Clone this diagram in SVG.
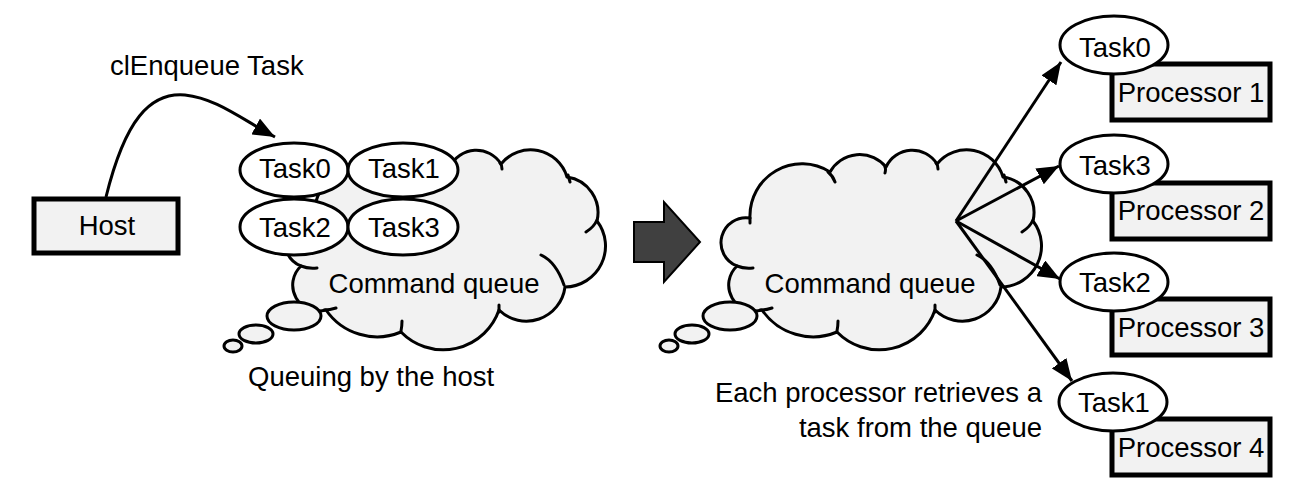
<svg xmlns="http://www.w3.org/2000/svg" xmlns:xlink="http://www.w3.org/1999/xlink" width="1298" height="492" viewBox="0 0 1298 492">
<style>
.t{font-family:"Liberation Sans",Arial,sans-serif;font-size:27.5px;fill:#000}
.task{fill:#fff;stroke:#000;stroke-width:3}
.box{fill:#f2f2f2;stroke:#000;stroke-width:5}
.cloud{fill:#f2f2f2;stroke:#000;stroke-width:3;stroke-linejoin:round}
.tail{fill:none;stroke:#000;stroke-width:3;stroke-linecap:round}
.conn{fill:none;stroke:#000;stroke-width:3}
</style>
<defs>
<marker id="ah" viewBox="0 0 22 18" refX="22" refY="9" markerWidth="22" markerHeight="18" markerUnits="userSpaceOnUse" orient="auto">
<path d="M0,0 L22,9 L0,18 z" fill="#000"/>
</marker>
<g id="cloudShape">
<path class="cloud" d="M737,266 A25,25 0 0 1 750,218 A52,52 0 0 1 830,172 A34,34 0 0 1 886,167 A29,29 0 0 1 937,164 A38,38 0 0 1 1003,177 A36,36 0 0 1 1033,221 A41,41 0 0 1 1001,287 A39,39 0 0 1 935,310 A59,59 0 0 1 837,332 A62,62 0 0 1 762,310 A26,26 0 0 1 737,266 Z"/>
<path class="tail" d="M737,266 Q744,269 753,268 M750,218 L750,223 M828,172 Q833,176 835,182 M885,167 Q886,169 885,173 M936,163 Q938,165 938,169 M1004,175 L1006,182 M1033,220 Q1030,227 1022,232 M977,255 Q992,262 1000,285 M935,305 L935,312 M838,321 Q838,326 837,331 M760,310 Q766,310 772,308"/>
<ellipse class="cloud" cx="730" cy="316" rx="27" ry="14"/>
<ellipse class="cloud" cx="692" cy="334" rx="17" ry="9"/>
<ellipse class="cloud" cx="669" cy="346" rx="9" ry="6"/>
</g>
</defs>

<g id="host">
<rect class="box" x="34" y="199" width="144" height="54"/>
<text class="t" x="107" y="235" text-anchor="middle">Host</text>
</g>

<g id="queue1">
<use xlink:href="#cloudShape" href="#cloudShape" transform="translate(-436,0)"/>
<text class="t" x="434" y="293" text-anchor="middle">Command queue</text>
</g>

<g id="q1-task0"><ellipse class="task" cx="294" cy="170" rx="54" ry="27"/><text class="t" x="295" y="178" text-anchor="middle">Task0</text></g>
<g id="q1-task1"><ellipse class="task" cx="403" cy="170" rx="55" ry="27"/><text class="t" x="404" y="178" text-anchor="middle">Task1</text></g>
<g id="q1-task2"><ellipse class="task" cx="294" cy="227" rx="54" ry="28"/><text class="t" x="295" y="237" text-anchor="middle">Task2</text></g>
<g id="q1-task3"><ellipse class="task" cx="403" cy="227" rx="55" ry="28"/><text class="t" x="404" y="237" text-anchor="middle">Task3</text></g>

<g id="bigArrow">
<path d="M634,222 L664,222 L664,202 L700,242 L664,282 L664,262 L634,262 Z" fill="#404040" stroke="#000" stroke-width="2"/>
</g>

<g id="queue2">
<use xlink:href="#cloudShape" href="#cloudShape"/>
<text class="t" x="870" y="293" text-anchor="middle">Command queue</text>
</g>

<g id="proc1"><rect class="box" x="1112" y="64" width="158" height="56"/><text class="t" x="1191" y="102" text-anchor="middle">Processor 1</text></g>
<g id="proc2"><rect class="box" x="1112" y="183" width="158" height="56"/><text class="t" x="1191" y="220" text-anchor="middle">Processor 2</text></g>
<g id="proc3"><rect class="box" x="1112" y="299" width="158" height="56"/><text class="t" x="1191" y="337" text-anchor="middle">Processor 3</text></g>
<g id="proc4"><rect class="box" x="1112" y="419" width="158" height="56"/><text class="t" x="1191" y="457" text-anchor="middle">Processor 4</text></g>

<g id="r-task0"><ellipse class="task" cx="1114" cy="45" rx="54" ry="29"/><text class="t" x="1115" y="57" text-anchor="middle">Task0</text></g>
<g id="r-task3"><ellipse class="task" cx="1114" cy="164" rx="54" ry="29"/><text class="t" x="1115" y="175" text-anchor="middle">Task3</text></g>
<g id="r-task2"><ellipse class="task" cx="1114" cy="282" rx="54" ry="29"/><text class="t" x="1115" y="292" text-anchor="middle">Task2</text></g>
<g id="r-task1"><ellipse class="task" cx="1113" cy="402" rx="54" ry="29"/><text class="t" x="1114" y="412" text-anchor="middle">Task1</text></g>

<g id="connectors">
<path class="conn" d="M106,197 C125,120 150,92 185,95 C215,98 240,118 275,137" marker-end="url(#ah)"/>
<path class="conn" d="M956,221 L1061,62" marker-end="url(#ah)"/>
<path class="conn" d="M956,221 L1059,166" marker-end="url(#ah)"/>
<path class="conn" d="M956,221 L1060,279" marker-end="url(#ah)"/>
<path class="conn" d="M956,221 L1072,381" marker-end="url(#ah)"/>
</g>

<g id="labels">
<text class="t" x="110" y="75">clEnqueue Task</text>
<text class="t" x="248" y="386">Queuing by the host</text>
<text class="t" x="1042" y="402" text-anchor="end">Each processor retrieves a</text>
<text class="t" x="1042" y="437" text-anchor="end">task from the queue</text>
</g>
</svg>
